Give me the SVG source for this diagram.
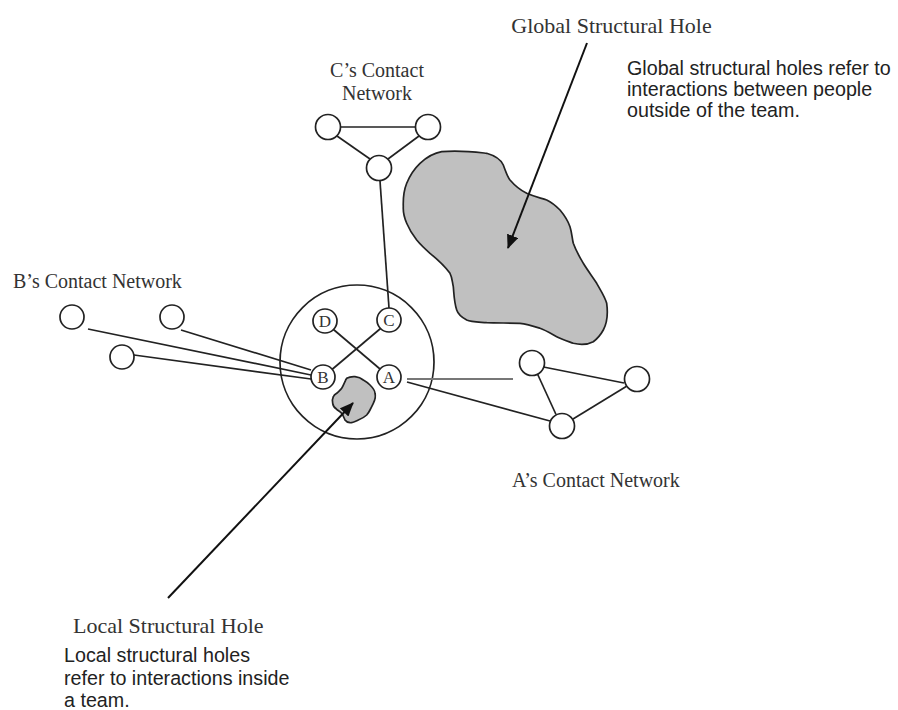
<svg xmlns="http://www.w3.org/2000/svg" width="898" height="710" viewBox="0 0 898 710">
<style>
.nd{fill:#fff;stroke:#222;stroke-width:1.7}
.ln{stroke:#222;stroke-width:1.7;fill:none}
.arr{stroke:#111;stroke-width:2;fill:none}
.hole{fill:#c0c0c0;stroke:#222;stroke-width:1.7}
.lab{font-family:"Liberation Serif","Times New Roman",serif;fill:#333}
.txt{font-family:"Liberation Sans",Arial,sans-serif;font-size:19.7px;fill:#222}
.let{font-family:"Liberation Serif","Times New Roman",serif;font-size:17px;fill:#333;text-anchor:middle}
</style>
<defs>
<marker id="ah" markerUnits="userSpaceOnUse" markerWidth="14" markerHeight="12" viewBox="0 0 14 12" refX="13" refY="6" orient="auto">
<path d="M0,0 L14,6 L0,12 Z" fill="#111"/>
</marker>
</defs>
<rect width="898" height="710" fill="#fff"/>

<g id="global-hole">
<path class="hole" d="M441.7,151.7 C460,150 475,152 486.7,153.3 C496,156 501,160 503.3,165 C506,172 507,176 510,180 C516,187 520,190 526.7,193.3 C535,197 541,198 546.7,200 C553,203 556,206 560,210 C565,216 568,221 570,226.7 C572,233 572,238 573.3,243.3 C576,251 579,256 583.3,263.3 C588,271 592,276 596.7,283.3 C601,291 605,297 606.7,303.3 C608,313 607,323 603.3,330 C600,336 597,339 593.3,341.7 C587,345 580,345 573.3,343.3 C567,341 561,339 556.7,336.7 C550,333 545,330 540,328.3 C533,326 527,324 520,323.3 C508,323 496,323 486.7,322.7 C478,322 471,322 466.7,320 C461,317 458,314 456.7,310 C454,302 454,294 453.3,286.7 C452,280 452,277 450,273.3 C444,265 437,259 430,253.3 C424,248 420,244 416.7,240 C412,234 409,229 406.7,223.3 C404,217 403,212 403.3,206.7 C403,198 404,190 406.7,183.3 C410,175 414,169 420,163.3 C427,157 434,153 441.7,151.7 Z"/>
</g>

<g id="team">
<circle cx="357" cy="362" r="77" fill="none" stroke="#222" stroke-width="1.7"/>
</g>

<g id="local-hole">
<path class="hole" d="M346.7,378.3 C349,377 352,376.5 355,376.7 C358,377 361,378 363.3,380 C366,381.5 368,383 370,385 C373,388 375,390 375,393.3 C376,397 375,400 373.3,403.3 C372,406 371,408 370,410 C369,412 368,413.5 366.7,415 C364,417.5 361,419 358.3,420 C355,421.5 352,423 350,422.7 C348,422.5 346,421.5 345,420 C344,418 343,415 341.7,413.3 C340,411.5 338,410.5 336.7,409.3 C334,407.5 333,405.5 332.7,403.3 C332,401 332.5,398.5 333.3,396.7 C334,395 335.5,394 336.7,393.3 C338.5,391.5 340.5,390 341.7,388.3 C343,386.5 344,383.5 345,381.7 C345.5,380 346,379 346.7,378.3 Z"/>
</g>

<g id="connectors">
<line class="ln" x1="340.5" y1="127" x2="415.5" y2="127"/>
<line class="ln" x1="337" y1="136" x2="370" y2="159"/>
<line class="ln" x1="419" y1="136" x2="388" y2="159"/>
<line class="ln" x1="380" y1="181" x2="389" y2="308"/>
<line class="ln" x1="333.5" y1="329.5" x2="380" y2="369"/>
<line class="ln" x1="380.5" y1="328.5" x2="332" y2="369.5"/>
<line class="ln" x1="181" y1="330" x2="311" y2="370"/>
<line class="ln" x1="88" y1="329" x2="311" y2="375"/>
<line class="ln" x1="134" y1="355" x2="311" y2="379"/>
<line x1="407" y1="379" x2="513" y2="379" stroke="#777" stroke-width="2"/>
<line class="ln" x1="407" y1="382" x2="550" y2="421"/>
<line class="ln" x1="543.5" y1="367" x2="624" y2="383"/>
<line class="ln" x1="537.5" y1="374" x2="556" y2="414.5"/>
<line class="ln" x1="627" y1="386" x2="573" y2="419"/>
<line class="arr" x1="587" y1="43" x2="508" y2="248" marker-end="url(#ah)"/>
<line class="arr" x1="168" y1="598" x2="353" y2="403" marker-end="url(#ah)"/>
</g>

<g id="node-c1"><circle class="nd" cx="328" cy="127" r="12.5"/></g>
<g id="node-c2"><circle class="nd" cx="428" cy="127" r="12.5"/></g>
<g id="node-c3"><circle class="nd" cx="379" cy="168" r="12.5"/></g>

<g id="node-b1"><circle class="nd" cx="72" cy="317" r="12"/></g>
<g id="node-b2"><circle class="nd" cx="172" cy="317" r="12"/></g>
<g id="node-b3"><circle class="nd" cx="122" cy="357" r="12"/></g>

<g id="node-a1"><circle class="nd" cx="532" cy="363" r="12.5"/></g>
<g id="node-a2"><circle class="nd" cx="637" cy="379" r="12.5"/></g>
<g id="node-a3"><circle class="nd" cx="562" cy="426" r="12.5"/></g>

<g id="node-D"><circle class="nd" cx="325" cy="321" r="12"/><text class="let" x="325" y="327">D</text></g>
<g id="node-C"><circle class="nd" cx="389" cy="320" r="12"/><text class="let" x="389" y="326">C</text></g>
<g id="node-B"><circle class="nd" cx="323" cy="377" r="12"/><text class="let" x="323" y="383">B</text></g>
<g id="node-A"><circle class="nd" cx="389" cy="377" r="12"/><text class="let" x="389" y="383">A</text></g>

<g id="labels">
<text class="lab" x="611.5" y="33" font-size="22" text-anchor="middle">Global Structural Hole</text>
<text class="lab" x="377" y="77" font-size="20" text-anchor="middle">C’s Contact</text>
<text class="lab" x="377" y="100" font-size="20" text-anchor="middle">Network</text>
<text class="lab" x="13" y="288" font-size="20">B’s Contact Network</text>
<text class="lab" x="512" y="487" font-size="20">A’s Contact Network</text>
<text class="lab" x="73" y="633" font-size="22">Local Structural Hole</text>
<text class="txt" x="627" y="75">Global structural holes refer to</text>
<text class="txt" x="627" y="96">interactions between people</text>
<text class="txt" x="627" y="117">outside of the team.</text>
<text class="txt" x="64" y="662">Local structural holes</text>
<text class="txt" x="64" y="685">refer to interactions inside</text>
<text class="txt" x="64" y="707">a team.</text>
</g>
</svg>
